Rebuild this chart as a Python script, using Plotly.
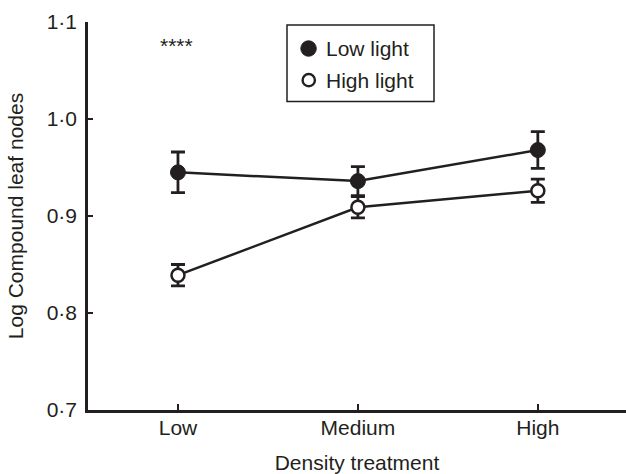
import plotly.graph_objects as go

categories = ["Low", "Medium", "High"]
low_light = [0.945, 0.936, 0.968]
low_light_err = [0.021, 0.015, 0.019]
high_light = [0.839, 0.909, 0.926]
high_light_err = [0.011, 0.011, 0.012]
y_ticks = [0.7, 0.8, 0.9, 1.0, 1.1]
y_tick_labels = ["0·7", "0·8", "0·9", "1·0", "1·1"]
legend_names = ["Low light", "High light"]

ink = "#231f20"
font_family = "Liberation Sans, Arial, sans-serif"

W, H = 626, 474
ML, MR, MT, MB = 88, 0, 22, 62
PW, PH = W - ML - MR, H - MT - MB


def px_x(x):
    return (x - ML) / PW


def px_y(y):
    return (H - MB - y) / PH


fig = go.Figure()

fig.add_trace(go.Scatter(
    x=categories, y=low_light, mode="lines+markers", name=legend_names[0], showlegend=False,
    line=dict(color=ink, width=2.5),
    marker=dict(symbol="circle", size=15, color=ink, line=dict(color=ink, width=1)),
    error_y=dict(type="data", array=low_light_err, color=ink, thickness=2.8, width=7),
))
fig.add_trace(go.Scatter(
    x=categories, y=high_light, mode="lines+markers", name=legend_names[1], showlegend=False,
    line=dict(color=ink, width=2.5),
    marker=dict(symbol="circle", size=13, color="white", line=dict(color=ink, width=2.5)),
    error_y=dict(type="data", array=high_light_err, color=ink, thickness=2.8, width=7),
))

# manual legend box
shapes = [
    dict(type="rect", xref="paper", yref="paper",
         x0=px_x(287), x1=px_x(434), y0=px_y(102), y1=px_y(25),
         line=dict(color=ink, width=1.5), fillcolor="white", layer="above"),
    dict(type="circle", xref="paper", yref="paper",
         x0=px_x(300.8), x1=px_x(316.3), y0=px_y(56.4), y1=px_y(40.9),
         line=dict(color=ink, width=1), fillcolor=ink, layer="above"),
    dict(type="circle", xref="paper", yref="paper",
         x0=px_x(302.6), x1=px_x(314.9), y0=px_y(86.6), y1=px_y(74.3),
         line=dict(color=ink, width=2.4), fillcolor="white", layer="above"),
]

annotations = [
    dict(x=px_x(176), y=px_y(46), xref="paper", yref="paper", text="****", showarrow=False,
         font=dict(size=21, color=ink, family=font_family), xanchor="center", yanchor="middle"),
    dict(x=px_x(324), y=px_y(49), xref="paper", yref="paper", text=legend_names[0], showarrow=False,
         font=dict(size=21, color=ink, family=font_family), xanchor="left", yanchor="middle"),
    dict(x=px_x(324), y=px_y(81), xref="paper", yref="paper", text=legend_names[1], showarrow=False,
         font=dict(size=21, color=ink, family=font_family), xanchor="left", yanchor="middle"),
]

fig.update_layout(
    width=W, height=H,
    margin=dict(l=ML, r=MR, t=MT, b=MB),
    paper_bgcolor="white", plot_bgcolor="white",
    font=dict(family=font_family, size=21, color=ink),
    showlegend=False,
    shapes=shapes,
    annotations=annotations,
    xaxis=dict(
        type="category", range=[-0.5, 2.49],
        showline=True, linecolor=ink, linewidth=2.5,
        ticks="inside", ticklen=6, tickwidth=2, tickcolor=ink,
        showgrid=False, zeroline=False, ticklabelstandoff=-3,
        tickfont=dict(size=21, color=ink),
        title=dict(text="Density treatment", font=dict(size=21, color=ink), standoff=20),
    ),
    yaxis=dict(
        range=[0.7, 1.1], tickvals=y_ticks, ticktext=y_tick_labels,
        showline=True, linecolor=ink, linewidth=2.5,
        ticks="inside", ticklen=5, tickwidth=2, tickcolor=ink,
        showgrid=False, zeroline=False, ticklabelstandoff=4,
        tickfont=dict(size=21, color=ink),
        title=dict(text="Log Compound leaf nodes", font=dict(size=21, color=ink), standoff=18),
    ),
)

fig.write_html("out.html", config={"displayModeBar": False},
               post_script="document.body.style.margin='0';")
